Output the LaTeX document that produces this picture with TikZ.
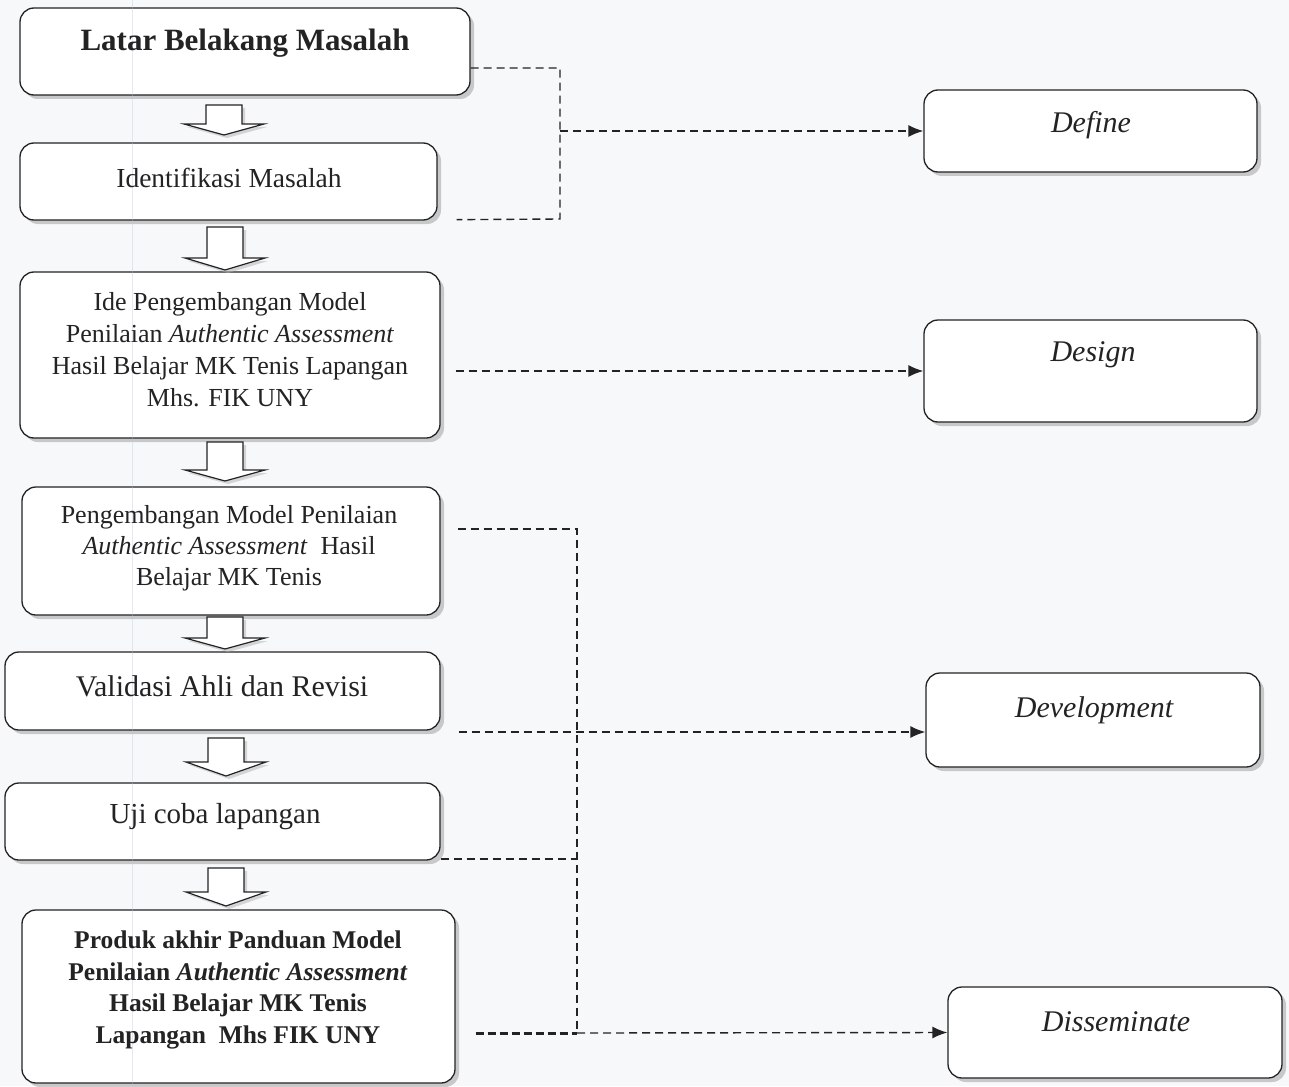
\documentclass[tikz,border=0pt]{standalone}
\usepackage{fontspec}
\setmainfont{Liberation Serif}
\usetikzlibrary{arrows.meta,shadows}
\definecolor{bg}{RGB}{246,248,250}
\definecolor{ink}{RGB}{35,35,35}
\definecolor{scanline}{RGB}{170,200,230}
\tikzset{
  rbox/.style={draw=ink, line width=1.3pt, rounded corners=14pt, fill=white, inner sep=0pt,
    drop shadow={shadow xshift=4pt, shadow yshift=-4pt, fill=black!40}},
  lbl/.style={text=ink, align=center, inner sep=0pt},
  dline/.style={draw=ink, line width=1.4pt, dash pattern=on 8pt off 5pt},
  dthick/.style={draw=ink, line width=3pt, dash pattern=on 8pt off 4pt},
  endarrow/.style={-{Latex[length=15pt,width=12pt]}},
  blockarr/.style={draw=ink, line width=1.2pt, fill=white, line join=miter,
    drop shadow={shadow xshift=3pt, shadow yshift=-3pt, fill=black!30}}
}
\newcommand\dnarrow[4]{%
  \path[blockarr] ({#1-18},#2) -- ({#1+18},#2) -- ({#1+18},#3) -- ({#1+40},#3)
    -- (#1,#4) -- ({#1-40},#3) -- ({#1-18},#3) -- cycle;}
\begin{document}
\begin{tikzpicture}[x=1pt,y=-1pt]
\useasboundingbox (0,0) rectangle (1289,1086);
\fill[bg] (0,0) rectangle (1289,1086);

% left column boxes
\node[rbox, minimum width=450pt, minimum height=87pt] (latar) at (245,51.5) {};
\node[rbox, minimum width=417pt, minimum height=77pt] (ident) at (228.5,181.5) {};
\node[rbox, minimum width=420pt, minimum height=166pt] (ide) at (230,355) {};
\node[rbox, minimum width=418pt, minimum height=128pt] (peng) at (231,551) {};
\node[rbox, minimum width=435pt, minimum height=78pt] (valid) at (222.5,691) {};
\node[rbox, minimum width=435pt, minimum height=77pt] (uji) at (222.5,821.5) {};
\node[rbox, minimum width=433pt, minimum height=173pt] (produk) at (238.5,996.5) {};

% right column boxes
\node[rbox, minimum width=333pt, minimum height=82pt] (define) at (1090.5,131) {};
\node[rbox, minimum width=333pt, minimum height=102pt] (design) at (1090.5,371) {};
\node[rbox, minimum width=334pt, minimum height=94pt] (devel) at (1093,720) {};
\node[rbox, minimum width=334pt, minimum height=91pt] (dissem) at (1115,1032.5) {};

% faint scan line
\draw[scanline, line width=1pt, opacity=0.35] (132,0) -- (132,1086);

% texts
\node[lbl, font=\fontsize{31}{37}\selectfont\bfseries] (latar-t) at (245,43) {Latar Belakang Masalah};
\node[lbl, font=\fontsize{27.5}{33}\selectfont] (ident-t) at (229,178) {Identifikasi Masalah};
\node[lbl, font=\fontsize{26}{32}\selectfont] (ide-t) at (230,350)
  {Ide Pengembangan Model\\Penilaian \textit{Authentic Assessment}\\Hasil Belajar MK Tenis Lapangan\\Mhs. FIK UNY};
\node[lbl, font=\fontsize{26}{31}\selectfont] (peng-t) at (229,548)
  {Pengembangan Model Penilaian\\\textit{Authentic Assessment}\ \ Hasil\\Belajar MK Tenis};
\node[lbl, font=\fontsize{30}{36}\selectfont] (valid-t) at (222,686) {Validasi Ahli dan Revisi};
\node[lbl, font=\fontsize{29}{35}\selectfont] (uji-t) at (215,817) {Uji coba lapangan};
\node[lbl, font=\fontsize{25.5}{31.5}\selectfont\bfseries] (produk-t) at (238,990)
  {Produk akhir Panduan Model\\Penilaian \textit{Authentic Assessment}\\Hasil Belajar MK Tenis\\Lapangan\ \ Mhs FIK UNY};

\node[lbl, font=\fontsize{30}{36}\selectfont\itshape] (define-t) at (1091,125) {Define};
\node[lbl, font=\fontsize{30}{36}\selectfont\itshape] (design-t) at (1093,355) {Design};
\node[lbl, font=\fontsize{30}{36}\selectfont\itshape] (devel-t) at (1094,710) {Development};
\node[lbl, font=\fontsize{30}{36}\selectfont\itshape] (dissem-t) at (1116,1022) {Disseminate};

% block arrows
\dnarrow{224}{105}{124}{135}
\dnarrow{225}{227}{258}{270}
\dnarrow{225}{442}{470}{481}
\dnarrow{225}{617}{638}{649}
\dnarrow{226}{738}{762}{776}
\dnarrow{226}{868}{892}{906}

% junction coordinates
\coordinate (j1) at (560,219);
\coordinate (j2) at (577,1033);

% Define connectors
\draw[dline] ([yshift=-16.5pt]latar.east) -| (j1) -- ([xshift=19pt,yshift=1pt]ident.south east);
\draw[dline, endarrow] (j1 |- define.west) -- (define.west);

% Design connector
\coordinate (ideout) at ([xshift=15pt]ide.east);
\draw[dline, endarrow] (ideout |- design.west) -- (design.west);

% Development connectors
\draw[dline] ([xshift=17pt,yshift=22pt]peng.east) -| (j2);
\coordinate (vout) at ([xshift=18pt,yshift=-41pt]valid.east);
\draw[dline, endarrow] (vout) -- (vout -| devel.west);
\coordinate (uout) at ([yshift=-37.5pt]uji.east);
\draw[dline] (uout) -- (uout -| j2);

% Disseminate connectors
\draw[dthick] ([xshift=20pt,yshift=-36.5pt]produk.east) -- (j2);
\draw[dline, endarrow] (j2) -- (dissem.west);
\end{tikzpicture}
\end{document}
